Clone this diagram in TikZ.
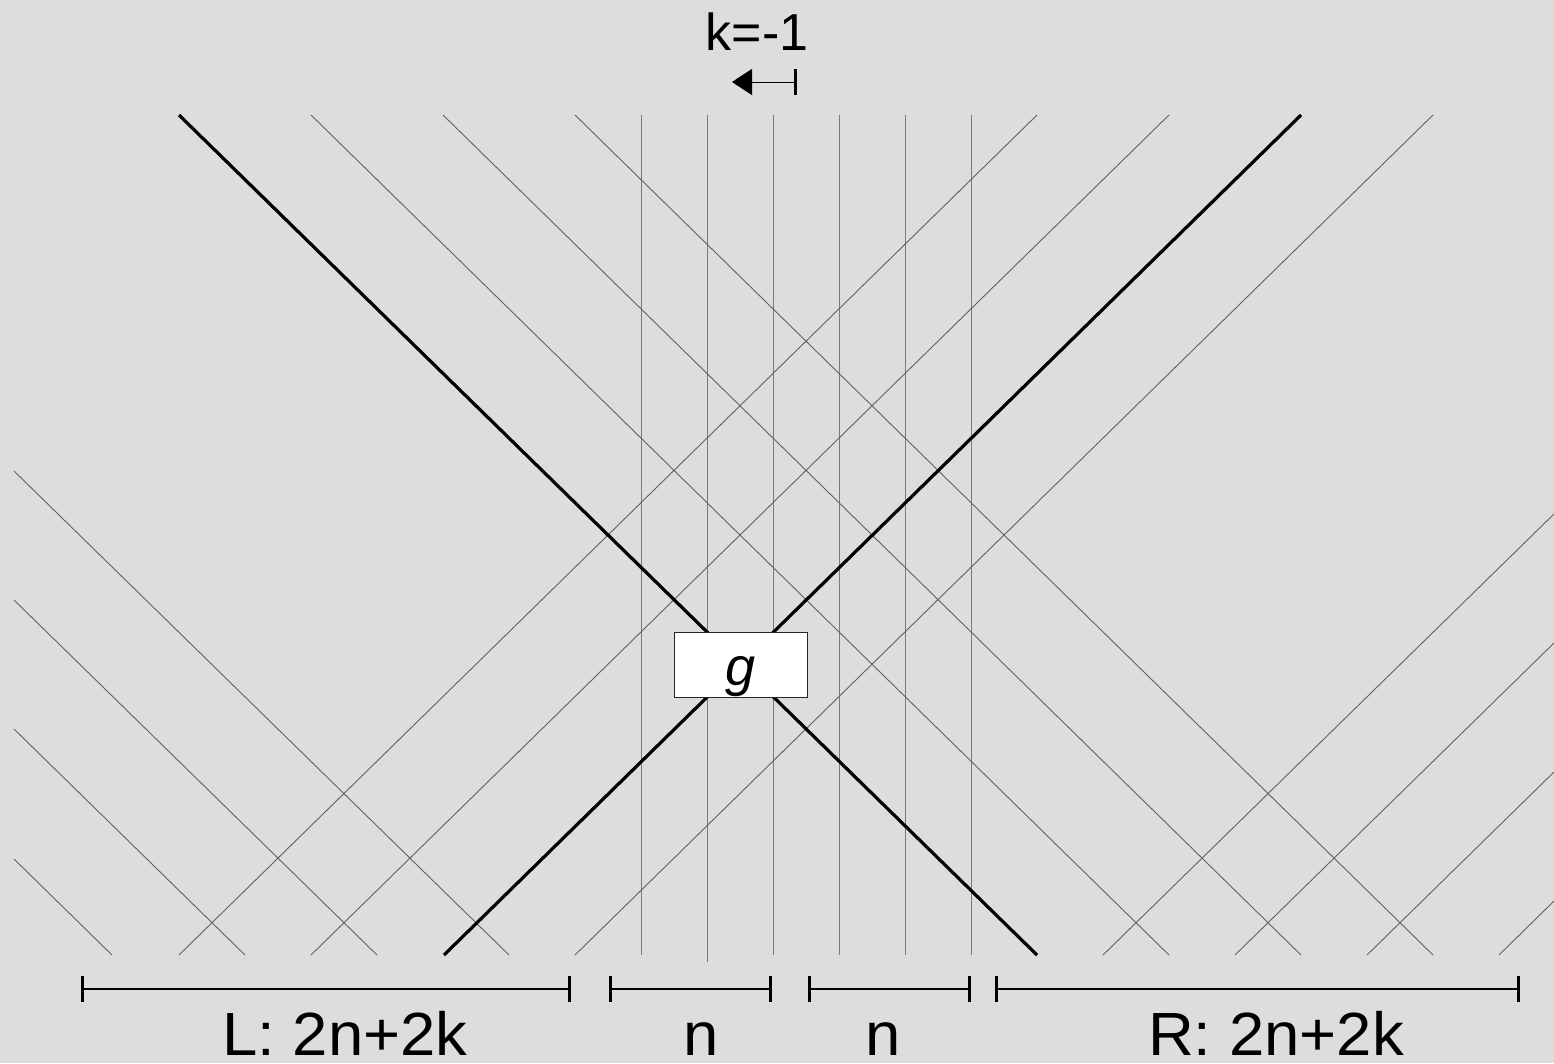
\documentclass[tikz,border=0pt]{standalone}
\usepackage{fontspec}
\setmainfont{Liberation Sans}
\newfontfamily\widesans[FakeStretch=1.04]{Liberation Sans}
\usetikzlibrary{arrows.meta}
\definecolor{bgcol}{HTML}{DDDDDD}
\definecolor{diagcol}{HTML}{606060}
\definecolor{vertcol}{HTML}{7A7A7A}
\begin{document}
\begin{tikzpicture}[x=1pt,y=-1pt,
  diagline/.style={draw=diagcol,line width=0.9pt},
  vertline/.style={draw=vertcol,line width=0.9pt},
  worldline/.style={draw=black,line width=3.2pt},
  scalebar/.style={draw=black,line width=1.3pt,{Bar[width=26pt,line width=2.6pt]}-{Bar[width=26pt,line width=2.6pt]}},
  biglabel/.style={anchor=base,inner sep=0pt,font=\widesans\fontsize{61}{61}\selectfont},
  gbox/.style={draw=black!85,fill=white,line width=1pt,anchor=base,inner sep=0pt,
    minimum width=133pt,text height=53pt,text depth=12pt}]
\fill[bgcol] (0,0) rectangle (1554,1063);
\useasboundingbox (0,0) rectangle (1554,1063);
\clip (0,0) rectangle (1554,1063);

% vertical lines
\foreach \x [count=\i] in {641,773,839,905,971}{
  \coordinate (vt\i) at (\x,115);
  \coordinate (vb\i) at (\x,955);
  \draw[vertline] (vt\i) -- (vb\i);
}
\coordinate (vt0) at (707,115);
\coordinate (vb0) at (707,962);
\draw[vertline] (vt0) -- (vb0);

% down-right thin lines
\foreach \a/\b/\c/\d [count=\i] in {311/115/1169/955,443/115/1301/955,575/115/1433/955,
   14/471/509/955,14/600/377/955,14/729/245/955,14/859/112/955}{
  \coordinate (dra\i) at (\a,\b);
  \coordinate (drb\i) at (\c,\d);
  \draw[diagline] (dra\i) -- (drb\i);
}
% up-right thin lines
\foreach \a/\b/\c/\d [count=\i] in {179/955/1037/115,311/955/1169/115,575/955/1433/115,
   1103/955/1554/514,1235/955/1554/643,1367/955/1554/772,1499/955/1554/901}{
  \coordinate (ura\i) at (\a,\b);
  \coordinate (urb\i) at (\c,\d);
  \draw[diagline] (ura\i) -- (urb\i);
}

% thick world lines
\coordinate (wl1) at (179,115);
\coordinate (wl2) at (1037,955);
\coordinate (wr1) at (1301,115);
\coordinate (wr2) at (444,955);
\draw[worldline] (wl1) -- (wl2);
\draw[worldline] (wr1) -- (wr2);

% gate box
\node[gbox] (g) at (740.5,685) {\fontsize{54}{54}\selectfont\itshape g};

% k label and arrow
\node[anchor=base,inner sep=0pt,font=\fontsize{52}{52}\selectfont] (klab) at (757,50) {k=-1};
\coordinate (ka) at (797,82);
\coordinate (kb) at (732,82);
\draw[line width=1pt,{Bar[width=26pt,line width=2.6pt]}-{Triangle[length=20pt,width=26pt]}] (ka) -- (kb);

% scale bars
\coordinate (s1a) at (81,989);  \coordinate (s1b) at (571,989);
\coordinate (s2a) at (609,989); \coordinate (s2b) at (772,989);
\coordinate (s3a) at (808,989); \coordinate (s3b) at (971,989);
\coordinate (s4a) at (995,989); \coordinate (s4b) at (1520,989);
\draw[scalebar] (s1a) -- (s1b);
\draw[scalebar] (s2a) -- (s2b);
\draw[scalebar] (s3a) -- (s3b);
\draw[scalebar] (s4a) -- (s4b);

\node[biglabel] (lL) at (345,1055) {L: 2n+2k};
\node[biglabel] (ln1) at (701,1055) {n};
\node[biglabel] (ln2) at (883,1055) {n};
\node[biglabel] (lR) at (1276,1055) {R: 2n+2k};
\end{tikzpicture}
\end{document}
